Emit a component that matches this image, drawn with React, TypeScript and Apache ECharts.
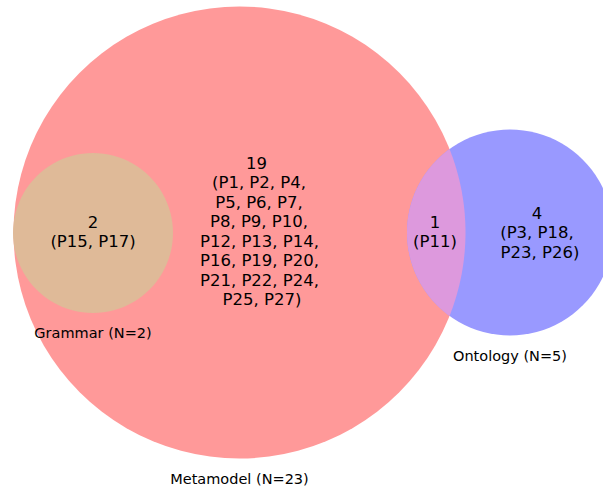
import React, { useEffect, useRef } from "react";
import * as echarts from "echarts";

// ---- data ----
const setNames = ["Metamodel", "Grammar", "Ontology"];
const setSizes = [23, 2, 5];
const regionNames = ["Metamodel only", "Grammar ∩ Metamodel", "Metamodel ∩ Ontology", "Ontology only"];
const regionCounts = [19, 2, 1, 4];
const metamodelOnly = ["P1", "P2", "P4", "P5", "P6", "P7", "P8", "P9", "P10", "P12", "P13", "P14", "P16", "P19", "P20", "P21", "P22", "P24", "P25", "P27"];
const grammarMetamodel = ["P15", "P17"];
const metamodelOntology = ["P11"];
const ontologyOnly = ["P3", "P18", "P23", "P26"];

// ---- layout (diagram units) ----
const circleLayout = [
  { cx: 239.5, cy: 232.5, r: 226 },
  { cx: 93, cy: 233, r: 80 },
  { cx: 510, cy: 232.5, r: 103 },
];
const circleColors = ["#ff9999", "#dfba98", "#9999ff"];
const lensColor = "#dd99dd";
const setLabelPos = [
  [239.5, 479],
  [93, 333],
  [510, 356],
];

function wrapMembers(list: string[], perLine: number): string[] {
  const lines: string[] = [];
  for (let i = 0; i < list.length; i += perLine) {
    const chunk = list.slice(i, i + perLine).join(", ");
    lines.push(chunk);
  }
  const out = lines.map((l, i) => (i === 0 ? "(" : "") + l + (i === lines.length - 1 ? ")" : ","));
  return out;
}

export default function App() {
  const ref = useRef<HTMLDivElement>(null);
  useEffect(() => {
    document.body.style.margin = "0";
    if (!ref.current) return;
    const chart = echarts.init(ref.current, null, { renderer: "svg" });

    const circleData = circleLayout.map((c, i) => [c.cx, c.cy, c.r, i]);

    // region text lines: [x, y, text, fontSize]
    const textData: any[] = [];
    const lh = 19.5;
    const addBlock = (x: number, yTop: number, lines: string[], xOffsets?: number[]) => {
      lines.forEach((t, i) => {
        textData.push([x + (xOffsets ? xOffsets[i] : 0), yTop + i * lh, t, 16.5]);
      });
    };
    const mmLines = [String(regionCounts[0]), ...wrapMembers(metamodelOnly, 3)];
    addBlock(262, 163, mmLines, [-5.5, -3, -3, -3, -2.5, -2.5, -2.5, 0]);
    addBlock(93, 222, [String(regionCounts[1]), "(" + grammarMetamodel.join(", ") + ")"]);
    addBlock(435, 222, [String(regionCounts[2]), "(" + metamodelOntology.join(", ") + ")"]);
    addBlock(540, 213, [String(regionCounts[3]), ...wrapMembers(ontologyOnly, 2)], [-3, -3, 0]);
    setNames.forEach((n, i) => {
      textData.push([setLabelPos[i][0], setLabelPos[i][1], `${n} (N=${setSizes[i]})`, 14.5]);
    });

    const option: any = {
      animation: false,
      grid: { left: 0, right: 0, top: 0, bottom: 0 },
      xAxis: { type: "value", min: 0, max: 603, show: false },
      yAxis: { type: "value", min: 0, max: 490, inverse: true, show: false },
      series: [
        {
          type: "custom",
          name: "sets",
          data: circleData,
          clip: false,
          renderItem: (params: any, api: any) => {
            const idx = api.value(3);
            const c = api.coord([api.value(0), api.value(1)]);
            const r = api.size([api.value(2), 0])[0];
            const children: any[] = [
              {
                type: "circle",
                shape: { cx: c[0], cy: c[1], r },
                style: { fill: circleColors[idx] },
              },
            ];
            if (idx === 2) {
              // lens with Metamodel circle
              const a = circleLayout[0];
              const ac = api.coord([a.cx, a.cy]);
              const ar = api.size([a.r, 0])[0];
              const dx = c[0] - ac[0];
              const dy = c[1] - ac[1];
              const d = Math.sqrt(dx * dx + dy * dy);
              const th = Math.atan2(dy, dx);
              const alpha = Math.acos((d * d + ar * ar - r * r) / (2 * d * ar));
              const beta = Math.acos((d * d + r * r - ar * ar) / (2 * d * r));
              const pts: number[][] = [];
              const N = 60;
              for (let k = 0; k <= N; k++) {
                const t = -alpha + (2 * alpha * k) / N;
                pts.push([ac[0] + ar * Math.cos(th + t), ac[1] + ar * Math.sin(th + t)]);
              }
              const thB = th + Math.PI;
              for (let k = 0; k <= N; k++) {
                const t = -beta + (2 * beta * k) / N;
                pts.push([c[0] + r * Math.cos(thB + t), c[1] + r * Math.sin(thB + t)]);
              }
              children.push({
                type: "polygon",
                shape: { points: pts },
                style: { fill: lensColor },
              });
            }
            return { type: "group", children };
          },
        },
        {
          type: "custom",
          name: "labels",
          data: textData,
          clip: false,
          renderItem: (params: any, api: any) => {
            const item = textData[params.dataIndex];
            const p = api.coord([item[0], item[1]]);
            return {
              type: "text",
              x: p[0],
              y: p[1],
              style: {
                text: item[2],
                fontFamily: "DejaVu Sans",
                fontSize: item[3],
                fill: "#000000",
                align: "center",
                verticalAlign: "middle",
              },
            };
          },
        },
      ],
    };
    chart.setOption(option);
    return () => chart.dispose();
  }, []);
  return <div ref={ref} style={{ width: 603, height: 490 }} />;
}
